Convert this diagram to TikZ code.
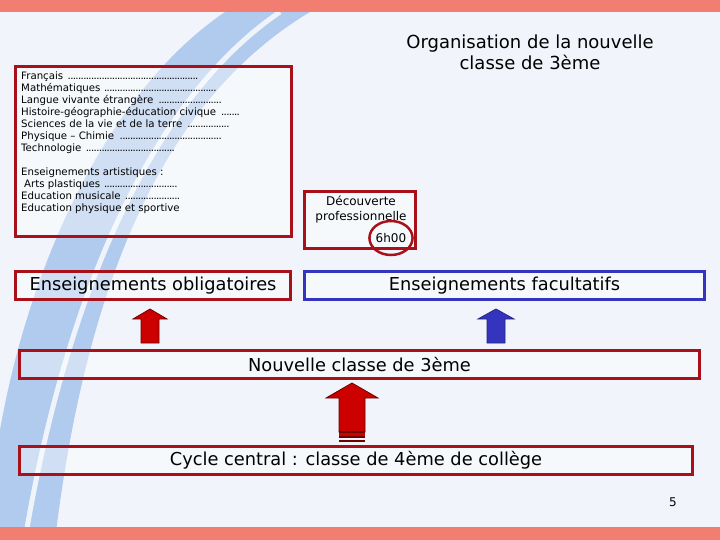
\documentclass[tikz,border=0pt]{standalone}
\usepackage{fontspec}
\setmainfont{DejaVu Sans}
\usetikzlibrary{positioning,shapes.geometric}
\usepackage{xcolor}

\definecolor{cadrerouge}{RGB}{168,16,26}
\definecolor{flecherouge}{RGB}{205,0,0}
\definecolor{sombre}{RGB}{110,0,0}
\definecolor{bleu}{RGB}{52,52,190}
\definecolor{bandeau}{RGB}{242,125,113}
\definecolor{fond}{RGB}{241,245,251}
\definecolor{ciel}{RGB}{125,170,228}

% une ligne de la liste, avec ses points jusqu'a la largeur donnee
\newcommand\matiere[2]{\hbox to #1{#2\leaders\hbox to 2.6pt{\hss.\hss}\hfill}}

\begin{document}
\begin{tikzpicture}[x=1pt,y=-1pt,
    cadre/.style={
        rectangle,
        draw=cadrerouge,
        line width=3pt,
        fill=white,
        fill opacity=0.4,
        text opacity=1,
        inner sep=0pt
    },
    cadrebleu/.style={cadre, draw=bleu},
    grand/.style={font=\fontsize{17.8}{20}\selectfont},
    fleche/.style={fill=flecherouge, draw=sombre, line width=0.8pt}
]
\useasboundingbox (0,0) rectangle (720,540);

% fond
\fill[fond] (0,0) rectangle (720,540);
\fill[ciel, opacity=0.55] (0,430) .. controls (30,260) and (110,90) .. (225,12)
    -- (310,12) .. controls (180,90) and (90,250) .. (55,540) -- (0,540) -- cycle;
\draw[white, line width=5pt, opacity=0.8] (25,540) .. controls (65,300) and (150,100) .. (280,12);
\fill[bandeau] (0,0) rectangle (720,12);
\fill[bandeau] (0,527) rectangle (720,540);

% titre
\node[align=center, font=\fontsize{18}{21}\selectfont] (titre) at (530,52)
{Organisation de la nouvelle\\classe de 3ème};

% liste des matieres
\node[cadre, minimum width=276, minimum height=170] (matieres) at (153.5,151.5) {};
\node[anchor=north west, align=left, inner sep=0pt,
      font=\fontsize{10.2}{12}\selectfont] (liste) at (21,72)
{\matiere{177pt}{Français }\\
 \matiere{197pt}{Mathématiques }\\
 \matiere{201pt}{Langue vivante étrangère }\\
 \matiere{221pt}{Histoire-géographie-éducation civique }\\
 \matiere{209pt}{Sciences de la vie et de la terre }\\
 \matiere{201pt}{Physique – Chimie }\\
 \matiere{156pt}{Technologie }\\[12pt]
 Enseignements artistiques :\\
 \matiere{157pt}{\hspace{3pt}Arts plastiques }\\
 \matiere{161pt}{Education musicale }\\
 Education physique et sportive};

% decouverte professionnelle
\node[cadre, minimum width=111, minimum height=57] (decouverte) at (360,220) {};
\node[align=center, inner sep=0pt, font=\fontsize{12}{15}\selectfont] (decouvtexte) at (361,209.5)
{Découverte\\professionnelle};
\node[ellipse, draw=cadrerouge, line width=2.5pt, minimum width=41, minimum height=34,
      inner sep=0pt, font=\fontsize{12}{14}\selectfont] (horaire) at (391,238) {6h00};

% les cadres du schema
\node[cadre, grand, minimum width=275, minimum height=28] (obligatoires) at (153,285.5)
{Enseignements obligatoires};
\node[cadrebleu, grand, minimum width=400, minimum height=28] (facultatifs) at (504.5,285.5)
{Enseignements facultatifs};
\node[cadre, grand, minimum width=680, minimum height=28] (nouvelle) at (359.5,364.5)
{Nouvelle classe de 3ème};
\node[cadre, grand, minimum width=673, minimum height=28] (cycle) at (356,460.5)
{Cycle central : classe de 4ème de collège};

% fleches
\coordinate (pointeA) at (150,309);
\coordinate (pointeB) at (496,309);
\coordinate (pointeC) at (352,383);

\draw[fleche] (pointeA) -- ++(17,10) -- ++(-8,0) -- ++(0,24) -- ++(-18,0)
    -- ++(0,-24) -- ++(-8,0) -- cycle;
\draw[fleche, fill=bleu, draw=bleu!70!black] (pointeB) -- ++(18,10) -- ++(-9,0) -- ++(0,24)
    -- ++(-18,0) -- ++(0,-24) -- ++(-9,0) -- cycle;
\draw[fleche] (pointeC) -- ++(26,15) -- ++(-13,0) -- ++(0,34) -- ++(-26,0)
    -- ++(0,-34) -- ++(-13,0) -- cycle;
\fill[sombre] (339,431) rectangle (365,433);
\fill[flecherouge] (339,433) rectangle (365,436);
\fill[sombre] (339,436) rectangle (365,438);
\fill[sombre] (339,439.5) rectangle (365,441.5);

% numero de page
\node[font=\fontsize{12}{14}\selectfont] (page) at (673,502) {5};

\end{tikzpicture}
\end{document}
